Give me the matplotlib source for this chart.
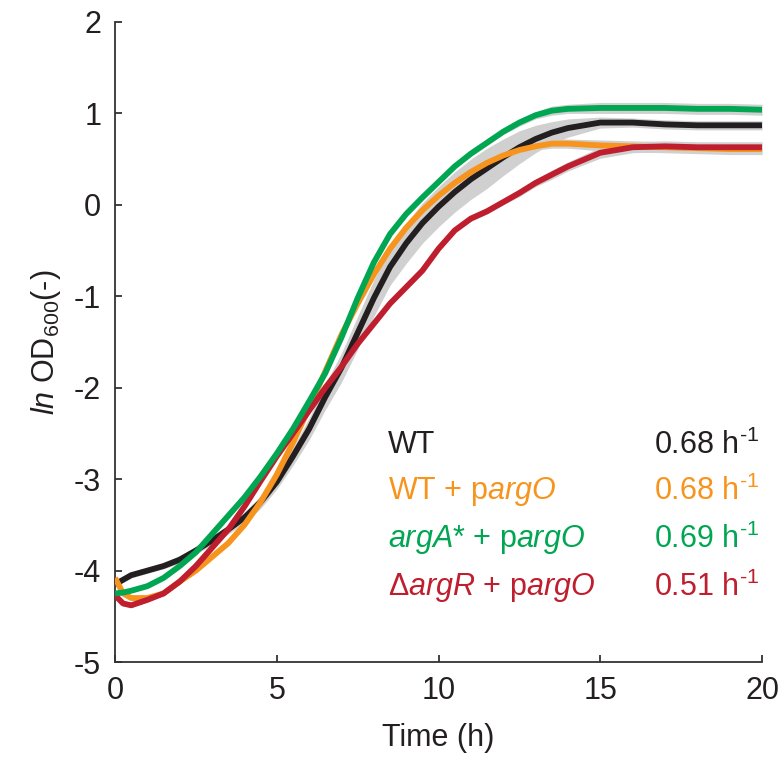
import numpy as np
import matplotlib
matplotlib.use("Agg")
import matplotlib.pyplot as plt

plt.rcParams['font.family'] = ['Liberation Sans', 'DejaVu Sans']
plt.rcParams['mathtext.fontset'] = 'custom'
plt.rcParams['mathtext.rm'] = 'Liberation Sans'
plt.rcParams['mathtext.it'] = 'Liberation Sans:italic'
plt.rcParams['axes.unicode_minus'] = False

# Tiempo (h)
tiempo = [0, 0.25, 0.5, 1, 1.5, 2, 2.5, 3, 3.5, 4, 4.5, 5, 5.5, 6, 6.5, 7, 7.5, 8,
          8.5, 9, 9.5, 10, 10.5, 11, 11.5, 12, 12.5, 13, 13.5, 14, 15, 16, 17, 18, 19, 20]

# ln OD600 de cada cepa
wt = [-4.15, -4.1, -4.05, -4.0, -3.95, -3.88, -3.78, -3.67, -3.55, -3.42, -3.25, -3.03,
      -2.75, -2.45, -2.1, -1.78, -1.4, -1.02, -0.68, -0.42, -0.2, -0.02, 0.14, 0.28,
      0.4, 0.52, 0.63, 0.72, 0.79, 0.84, 0.9, 0.9, 0.88, 0.87, 0.87, 0.87]
wt_pargo = [-4.08, -4.25, -4.3, -4.3, -4.25, -4.12, -4.0, -3.85, -3.7, -3.5, -3.25, -2.95,
            -2.6, -2.22, -1.82, -1.42, -1.08, -0.76, -0.48, -0.25, -0.06, 0.1, 0.24, 0.36,
            0.46, 0.54, 0.6, 0.64, 0.67, 0.67, 0.65, 0.64, 0.63, 0.62, 0.61, 0.61]
arga_pargo = [-4.25, -4.24, -4.22, -4.17, -4.08, -3.95, -3.8, -3.6, -3.4, -3.2, -2.97, -2.72,
              -2.45, -2.15, -1.84, -1.45, -1.02, -0.63, -0.32, -0.1, 0.08, 0.25, 0.42, 0.56,
              0.68, 0.8, 0.9, 0.98, 1.03, 1.05, 1.06, 1.06, 1.06, 1.05, 1.05, 1.04]
argr_pargo = [-4.27, -4.36, -4.38, -4.32, -4.25, -4.12, -3.95, -3.75, -3.55, -3.3, -3.02, -2.75,
              -2.5, -2.25, -2.0, -1.77, -1.52, -1.3, -1.08, -0.9, -0.72, -0.48, -0.28, -0.15,
              -0.07, 0.03, 0.13, 0.24, 0.33, 0.42, 0.57, 0.63, 0.64, 0.63, 0.63, 0.63]

# Desviación estándar (banda gris)
wt_sd = [0.03, 0.03, 0.03, 0.03, 0.03, 0.04, 0.04, 0.05, 0.05, 0.06, 0.07, 0.08,
         0.1, 0.12, 0.14, 0.16, 0.18, 0.2, 0.2, 0.22, 0.22, 0.22, 0.22, 0.22,
         0.22, 0.2, 0.18, 0.15, 0.12, 0.1, 0.06, 0.05, 0.05, 0.05, 0.05, 0.05]
otros_sd = [0.02, 0.02, 0.02, 0.02, 0.02, 0.02, 0.02, 0.02, 0.02, 0.02, 0.02, 0.02,
            0.02, 0.02, 0.02, 0.02, 0.02, 0.02, 0.02, 0.02, 0.02, 0.02, 0.02, 0.03,
            0.03, 0.03, 0.04, 0.04, 0.05, 0.05, 0.06, 0.06, 0.06, 0.06, 0.06, 0.06]

etiquetas = ['WT', 'WT + p$argO$', '$argA$* + p$argO$', '$\\Delta argR$ + p$argO$']
tasas = ['0.68', '0.68', '0.69', '0.51']
colores = ['#231f20', '#f7941d', '#00a651', '#be1e2d']

t = np.array(tiempo)
series = [np.array(wt), np.array(wt_pargo), np.array(arga_pargo), np.array(argr_pargo)]
sds = [np.array(wt_sd), np.array(otros_sd), np.array(otros_sd), np.array(otros_sd)]

fig = plt.figure(figsize=(7.81, 7.69), dpi=100)
ax = fig.add_axes([0.1473, 0.1391, 0.8284, 0.8323])

# Bandas grises primero
for y, sd in zip(series, sds):
    ax.fill_between(t, y - sd, y + sd, color='#d0d0d0', lw=0, zorder=1)

# Curvas
orden = [0, 1, 3, 2]
for i in orden:
    ax.plot(t, series[i], color=colores[i], lw=4.2, solid_capstyle='butt', zorder=3)

ax.set_xlim(0, 20)
ax.set_ylim(-5, 2)
ax.set_xticks([0, 5, 10, 15, 20])
ax.set_yticks([-5, -4, -3, -2, -1, 0, 1, 2])
for s in ['top', 'right']:
    ax.spines[s].set_visible(False)
for s in ['left', 'bottom']:
    ax.spines[s].set_linewidth(1.3)
    ax.spines[s].set_color('#333333')
ax.tick_params(direction='in', length=5, width=1.3, color='#333333',
               labelsize=22, pad=10, labelcolor='#231f20')
ax.set_xlabel('Time (h)', fontsize=22, labelpad=12, color='#231f20')
ax.set_ylabel('$ln$ OD$_{600}$(-)', fontsize=22, labelpad=8, color='#231f20')

# Leyenda como texto
ys = [0.339, 0.266, 0.191, 0.116]
for i in range(4):
    ax.text(0.422, ys[i], etiquetas[i], transform=ax.transAxes, color=colores[i],
            fontsize=22, va='center', ha='left')
    ax.text(0.995, ys[i], tasas[i] + ' h$^{\\text{-}1}$', transform=ax.transAxes,
            color=colores[i], fontsize=22, va='center', ha='right')

fig.savefig('out.png', dpi=100)
